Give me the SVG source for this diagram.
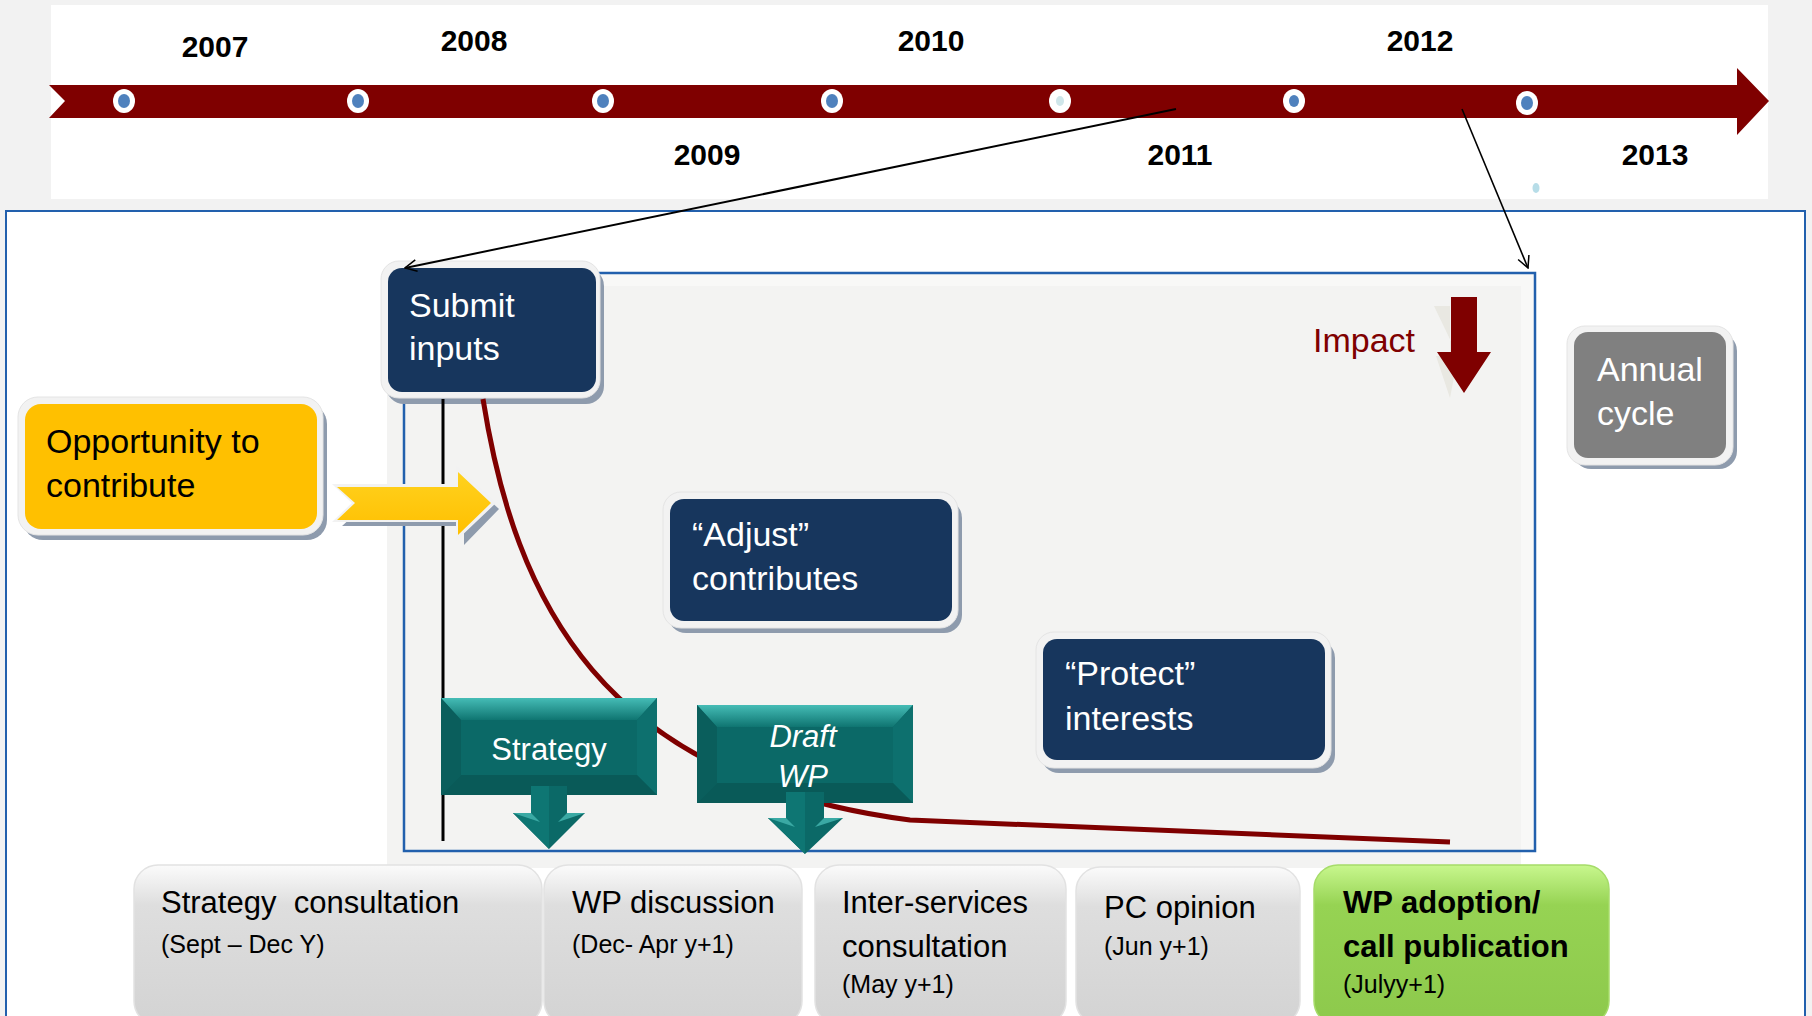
<svg xmlns="http://www.w3.org/2000/svg" width="1812" height="1016" viewBox="0 0 1812 1016">
<defs>
<style>
.yr{font-family:"Liberation Sans",Arial,sans-serif;font-weight:bold;font-size:30px;fill:#000;text-anchor:middle}
.wt{font-family:"Liberation Sans",Arial,sans-serif;font-size:34px;fill:#fff}
.bk{font-family:"Liberation Sans",Arial,sans-serif;font-size:34px;fill:#000}
.bt{font-family:"Liberation Sans",Arial,sans-serif;font-size:31px;fill:#000;white-space:pre}
.bs{font-family:"Liberation Sans",Arial,sans-serif;font-size:25px;fill:#000}
.tt{font-family:"Liberation Sans",Arial,sans-serif;font-size:31px;fill:#fff;text-anchor:middle}
.navy{fill:#17365d}
.frame{fill:#f2f2f2;stroke:#e4e4e4;stroke-width:1}
.shadow{fill:#8e9bad}
.dotw{fill:#fff}
.dotb{fill:#4f81bd}
</style>
<linearGradient id="gGray" x1="0" y1="0" x2="0" y2="1">
<stop offset="0" stop-color="#fbfbfb"/><stop offset="0.25" stop-color="#dedede"/><stop offset="1" stop-color="#d3d3d3"/>
</linearGradient>
<linearGradient id="gGreen" x1="0" y1="0" x2="0" y2="1">
<stop offset="0" stop-color="#c8f78e"/><stop offset="0.25" stop-color="#96d353"/><stop offset="1" stop-color="#8dc94c"/>
</linearGradient>
<linearGradient id="gTealTop" x1="0" y1="0" x2="0" y2="1">
<stop offset="0" stop-color="#45bcb6"/><stop offset="1" stop-color="#0f7571"/>
</linearGradient>
<linearGradient id="gYellow" x1="0" y1="0" x2="0" y2="1">
<stop offset="0" stop-color="#ffd21f"/><stop offset="1" stop-color="#ffbf00"/>
</linearGradient>
<marker id="openArrow" viewBox="0 0 12 12" refX="11" refY="6" markerWidth="14" markerHeight="14" markerUnits="userSpaceOnUse" orient="auto">
<path d="M1,1 L11,6 L1,11" fill="none" stroke="#000" stroke-width="1.3"/>
</marker>
</defs>

<rect x="0" y="0" width="1812" height="1016" fill="#f2f2f2"/>

<g id="timeline">
<rect x="51" y="5" width="1717" height="194" fill="#fff"/>
<polygon points="49,85 1737,85 1737,68 1769,101 1737,135 1737,118 49,118 65,101" fill="#7f0000"/>
<ellipse cx="124" cy="101" rx="11" ry="12" class="dotw"/><ellipse cx="124" cy="101" rx="6" ry="7" class="dotb"/>
<ellipse cx="358" cy="101" rx="11" ry="12" class="dotw"/><ellipse cx="358" cy="101" rx="6" ry="7" class="dotb"/>
<ellipse cx="603" cy="101" rx="11" ry="12" class="dotw"/><ellipse cx="603" cy="101" rx="6" ry="7" class="dotb"/>
<ellipse cx="832" cy="101" rx="11" ry="12" class="dotw"/><ellipse cx="832" cy="101" rx="6" ry="7" class="dotb"/>
<ellipse cx="1060" cy="101" rx="11" ry="12" class="dotw"/><ellipse cx="1060" cy="101" rx="4" ry="5" fill="#cfe6ea"/>
<ellipse cx="1294" cy="101" rx="11" ry="12" class="dotw"/><ellipse cx="1294" cy="101" rx="5" ry="6" class="dotb"/>
<ellipse cx="1527" cy="103" rx="11" ry="12" class="dotw"/><ellipse cx="1527" cy="103" rx="6" ry="7" class="dotb"/>
<ellipse cx="1536" cy="188" rx="3.5" ry="5" fill="#b7dde8"/>
<text class="yr" x="215" y="57">2007</text>
<text class="yr" x="474" y="51">2008</text>
<text class="yr" x="931" y="51">2010</text>
<text class="yr" x="1420" y="51">2012</text>
<text class="yr" x="707" y="165">2009</text>
<text class="yr" x="1180" y="165">2011</text>
<text class="yr" x="1655" y="165">2013</text>
</g>

<g id="annual-frame">
<rect x="6" y="211" width="1799" height="830" fill="#fff" stroke="#2260ad" stroke-width="2"/>
</g>

<g id="impact-area">
<rect x="404" y="273" width="1131" height="578" fill="#f8f8f7"/>
<rect x="387" y="286" width="1134" height="582" fill="#f3f3f2"/>
<rect x="404" y="273" width="1131" height="578" fill="none" stroke="#2260ad" stroke-width="2.5"/>
</g>

<g id="impact">
<polygon points="1434,306 1450,306 1450,356 1436,356 1450,398 1458,356" fill="#e9e8e2"/>
<polygon points="1451,297 1477,297 1477,352 1491,352 1464,393 1437,352 1451,352" fill="#7f0000"/>
<text x="1313" y="352" font-family="'Liberation Sans',Arial,sans-serif" font-size="34" fill="#7f0000">Impact</text>
</g>

<g id="submit-inputs">
<rect x="386" y="268" width="218" height="136" rx="18" class="shadow"/>
<rect x="381" y="261" width="219" height="137" rx="18" class="frame"/>
<rect x="388" y="268" width="208" height="124" rx="14" class="navy"/>
<text class="wt" x="409" y="317">Submit</text>
<text class="wt" x="409" y="360">inputs</text>
</g>

<g id="connectors">
<line x1="443" y1="399" x2="443" y2="841" stroke="#000" stroke-width="3"/>
<path d="M483,399 C515,600 600,780 910,820 L1450,842" fill="none" stroke="#7f0000" stroke-width="5"/>
<line x1="1176" y1="109" x2="405" y2="268" stroke="#000" stroke-width="2" marker-end="url(#openArrow)"/>
<line x1="1462" y1="109" x2="1528" y2="268" stroke="#000" stroke-width="1.6" marker-end="url(#openArrow)"/>
</g>

<g id="opportunity-arrow">
<polygon points="342,491 464,491 464,477 499,509 464,545 464,526 342,526 362,508" fill="#8e9bad"/>
<polygon points="332,484 456,484 456,466 496,503 456,541 456,522 332,522 352,503" fill="#f2f2f2"/>
<polygon points="337,487 458,487 458,472 491,503 458,535 458,520 337,520 355,503" fill="url(#gYellow)"/>
</g>

<g id="opportunity">
<rect x="23" y="404" width="304" height="136" rx="20" class="shadow"/>
<rect x="18" y="397" width="305" height="138" rx="20" class="frame"/>
<rect x="25" y="404" width="292" height="125" rx="16" fill="#ffc000"/>
<text class="bk" x="46" y="453">Opportunity to</text>
<text class="bk" x="46" y="497">contribute</text>
</g>

<g id="annual-cycle">
<rect x="1573" y="333" width="164" height="136" rx="18" class="shadow"/>
<rect x="1567" y="326" width="166" height="139" rx="18" class="frame"/>
<rect x="1574" y="332" width="152" height="126" rx="14" fill="#808080"/>
<text class="wt" x="1597" y="381">Annual</text>
<text class="wt" x="1597" y="425">cycle</text>
</g>

<g id="adjust">
<rect x="668" y="500" width="294" height="133" rx="18" class="shadow"/>
<rect x="663" y="492" width="295" height="136" rx="18" class="frame"/>
<rect x="670" y="499" width="282" height="122" rx="14" class="navy"/>
<text class="wt" x="692" y="546">“Adjust”</text>
<text class="wt" x="692" y="590">contributes</text>
</g>

<g id="protect">
<rect x="1041" y="640" width="294" height="133" rx="18" class="shadow"/>
<rect x="1036" y="632" width="295" height="136" rx="18" class="frame"/>
<rect x="1043" y="639" width="282" height="121" rx="14" class="navy"/>
<text class="wt" x="1065" y="685">“Protect”</text>
<text class="wt" x="1065" y="730">interests</text>
</g>

<g id="strategy">
<rect x="441" y="698" width="216" height="97" fill="#0b6967"/>
<polygon points="441,698 657,698 637,720 461,720" fill="url(#gTealTop)"/>
<polygon points="441,698 461,720 461,775 441,795" fill="#0a5e5c"/>
<polygon points="657,698 637,720 637,775 657,795" fill="#0d706e"/>
<polygon points="441,795 461,775 637,775 657,795" fill="#095a58"/>
<rect x="461" y="720" width="176" height="55" fill="#0b6967"/>
<polygon points="531,786 567,786 567,813 585,813 549,849 513,813 531,813" fill="#0b6967"/>
<polygon points="531,786 549,786 549,849 513,813 531,813" fill="#0e7673"/>
<polygon points="513,813 531,813 540,822" fill="#3aa9a4"/>
<polygon points="585,813 567,813 558,822" fill="#3aa9a4"/>
<text class="tt" x="549" y="760">Strategy</text>
</g>

<g id="draft-wp">
<rect x="697" y="705" width="216" height="98" fill="#0b6967"/>
<polygon points="697,705 913,705 893,727 717,727" fill="url(#gTealTop)"/>
<polygon points="697,705 717,727 717,783 697,803" fill="#0a5e5c"/>
<polygon points="913,705 893,727 893,783 913,803" fill="#0d706e"/>
<polygon points="697,803 717,783 893,783 913,803" fill="#095a58"/>
<rect x="717" y="727" width="176" height="56" fill="#0b6967"/>
<polygon points="786,792 824,792 824,818 843,818 805,854 768,818 786,818" fill="#0b6967"/>
<polygon points="786,792 805,792 805,854 768,818 786,818" fill="#0e7673"/>
<polygon points="768,818 786,818 795,827" fill="#3aa9a4"/>
<polygon points="843,818 824,818 815,827" fill="#3aa9a4"/>
<text class="tt" x="803" y="747" font-style="italic">Draft</text>
<text class="tt" x="803" y="787" font-style="italic">WP</text>
</g>

<g id="strategy-consultation">
<rect x="134" y="865" width="408" height="160" rx="24" fill="url(#gGray)" stroke="#e2e2e2" stroke-width="1.5"/>
<text class="bt" x="161" y="913" xml:space="preserve">Strategy  consultation</text>
<text class="bs" x="161" y="953">(Sept – Dec Y)</text>
</g>

<g id="wp-discussion">
<rect x="544" y="865" width="258" height="160" rx="24" fill="url(#gGray)" stroke="#e2e2e2" stroke-width="1.5"/>
<text class="bt" x="572" y="913">WP discussion</text>
<text class="bs" x="572" y="953">(Dec- Apr y+1)</text>
</g>

<g id="inter-services">
<rect x="815" y="865" width="251" height="160" rx="24" fill="url(#gGray)" stroke="#e2e2e2" stroke-width="1.5"/>
<text class="bt" x="842" y="913">Inter-services</text>
<text class="bt" x="842" y="957">consultation</text>
<text class="bs" x="842" y="993">(May y+1)</text>
</g>

<g id="pc-opinion">
<rect x="1076" y="867" width="224" height="158" rx="24" fill="url(#gGray)" stroke="#e2e2e2" stroke-width="1.5"/>
<text class="bt" x="1104" y="918">PC opinion</text>
<text class="bs" x="1104" y="955">(Jun y+1)</text>
</g>

<g id="wp-adoption">
<rect x="1314" y="865" width="295" height="160" rx="24" fill="url(#gGreen)" stroke="#a6dc6a" stroke-width="1.5"/>
<text class="bt" x="1343" y="913" font-weight="bold">WP adoption/</text>
<text class="bt" x="1343" y="957" font-weight="bold">call publication</text>
<text class="bs" x="1343" y="993">(Julyy+1)</text>
</g>
</svg>
